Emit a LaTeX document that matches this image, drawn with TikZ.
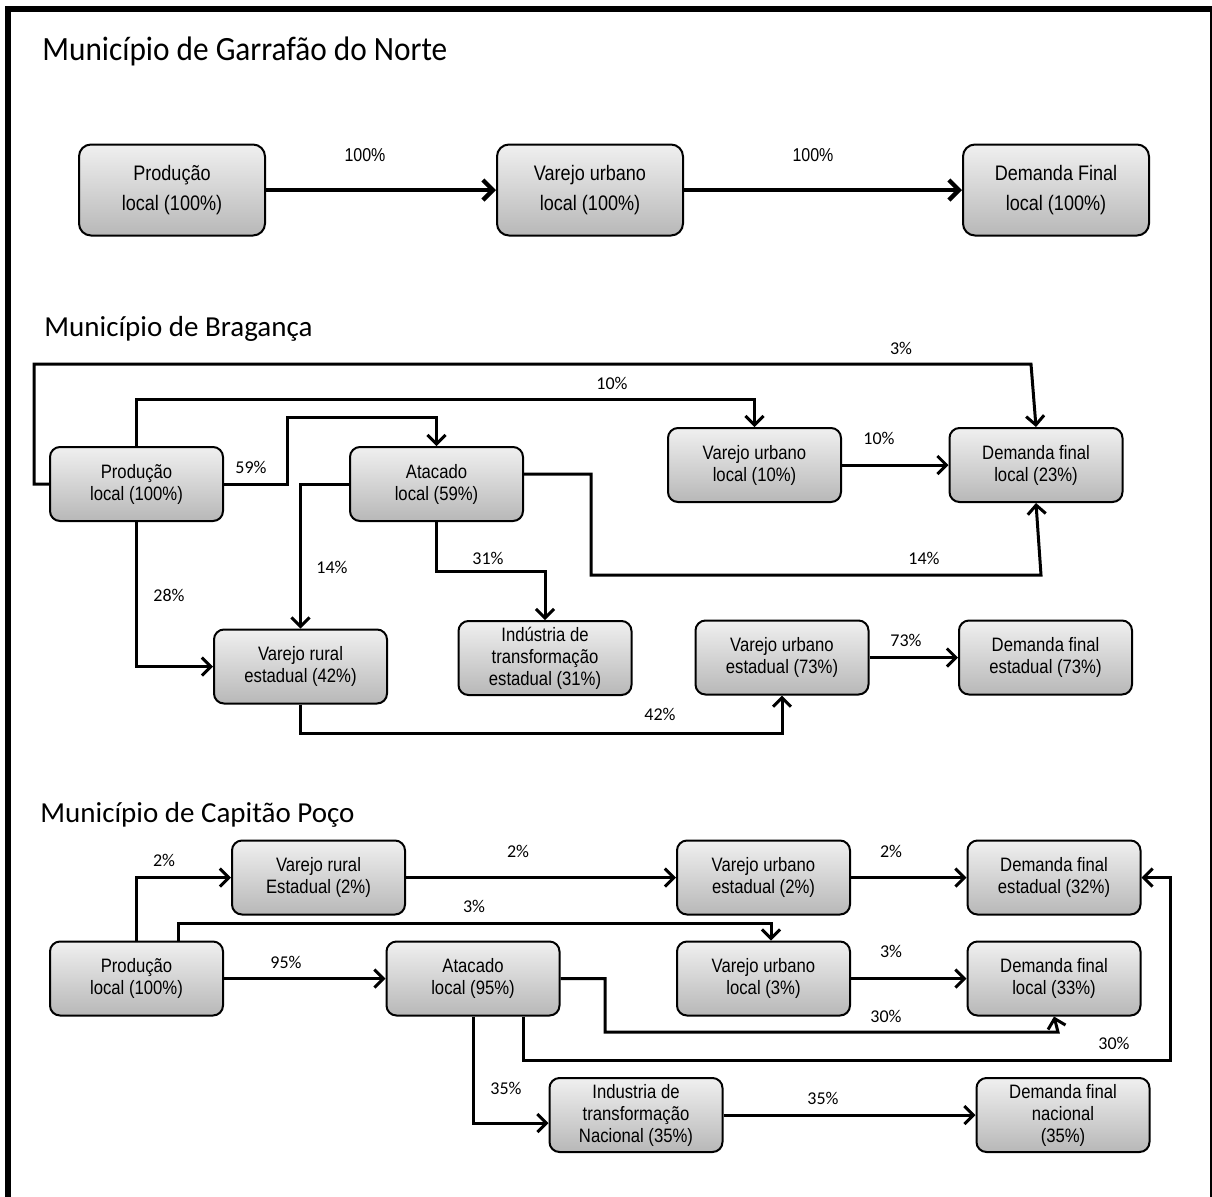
\documentclass[tikz,border=0pt]{standalone}
\usepackage{fontspec}
\setmainfont{Carlito}
\newfontfamily\boxfont[FakeStretch=0.86]{Liberation Sans}
\newfontfamily\headfont[FakeStretch=0.92]{Carlito}
\usetikzlibrary{arrows.meta,calc}

\begin{document}
\begin{tikzpicture}[
        x={(0.5pt,0)}, y={(0,-0.5pt)},
        box/.style={draw, line width=1pt, rounded corners=5pt,
          top color=black!6, bottom color=black!28, minimum width=86.5pt,
          minimum height=37pt, inner sep=1pt, align=center,
          font=\boxfont\fontsize{9.7}{11}\selectfont},
        bigbox/.style={box, rounded corners=6pt, minimum width=93pt,
          minimum height=45.5pt, font=\boxfont\fontsize{10.5}{14.8}\selectfont},
        flow/.style={line width=1.5pt, -{Straight Barb[length=4.5pt,width=9pt]}},
        bigflow/.style={line width=2.2pt, -{Straight Barb[length=5pt,width=10pt]}},
        pct/.style={inner sep=0pt, font=\fontsize{9}{10.8}\selectfont},
        bigpct/.style={inner sep=0pt, font=\boxfont\fontsize{9.3}{11}\selectfont},
        title/.style={anchor=base west, inner sep=0pt, font=\fontsize{14.5}{17}\selectfont},
      ]
        \clip (0,0) rectangle (1212,1196);
        \draw[line width=3pt] (8,9) rectangle (1213,1200);

        % Garrafao do Norte
        \node[title, font=\headfont\fontsize{17}{20}\selectfont] (tGar) at (42,60) {Município de Garrafão do Norte};
        \node[bigbox] (gProd) at (172,190) {Produção\\local (100\%)};
        \node[bigbox] (gVar) at (590,190) {Varejo urbano\\local (100\%)};
        \node[bigbox] (gDem) at (1056,190) {Demanda Final\\local (100\%)};
        \draw[bigflow] (gProd) -- (gVar);
        \draw[bigflow] (gVar) -- (gDem);
        \node[bigpct] (gL1) at (365,155) {100\%};
        \node[bigpct] (gL2) at (813,155) {100\%};

        % Braganca
        \node[title] (tBra) at (44,336) {Município de Bragança};
        \node[box] (bProd) at (136.5,484) {Produção\\local (100\%)};
        \node[box] (bAta) at (436.5,484) {Atacado\\local (59\%)};
        \node[box] (bVarUL) at (754.5,465) {Varejo urbano\\local (10\%)};
        \node[box] (bDemL) at (1036,465) {Demanda final\\local (23\%)};
        \node[box] (bVarR) at (300.5,666.5) {Varejo rural\\estadual (42\%)};
        \node[box] (bInd) at (545,658) {Indústria de\\transformação\\estadual (31\%)};
        \node[box] (bVarUE) at (782,657.5) {Varejo urbano\\estadual (73\%)};
        \node[box] (bDemE) at (1045.5,657.5) {Demanda final\\estadual (73\%)};

        \draw[flow] (bProd.west) -| (34,364) -- (1031,364) -- (bDemL.north);
        \draw[flow] (bProd.north) -- (136.5,399) -| (bVarUL.north);
        \draw[flow] (bProd.east) -| (287,417) -| (bAta.north);
        \draw[flow] (bProd.south) |- (bVarR.west);
        \draw[flow] (bAta.west) -| (bVarR.north);
        \draw[flow] (bAta.south) -- (436.5,571) -| (bInd.north);
        \draw[flow] ([yshift=5pt]bAta.east) -| (591,575) -- (1041,575) -- (bDemL.south);
        \draw[flow] (bVarUL) -- (bDemL);
        \draw[flow] (bVarR.south) -- (300.5,733) -| (bVarUE.south);
        \draw[flow] (bVarUE) -- (bDemE);

        \node[pct] (bL1) at (901,348) {3\%};
        \node[pct] (bL2) at (612,383) {10\%};
        \node[pct] (bL3) at (251,467) {59\%};
        \node[pct] (bL4) at (169,595) {28\%};
        \node[pct] (bL5) at (332,567) {14\%};
        \node[pct] (bL6) at (488,558) {31\%};
        \node[pct] (bL7) at (924,558) {14\%};
        \node[pct] (bL8) at (879,438) {10\%};
        \node[pct] (bL9) at (660,714) {42\%};
        \node[pct] (bL10) at (906,640) {73\%};

        % Capitao Poco
        \node[title] (tCap) at (40,822) {Município de Capitão Poço};
        \node[box] (cProd) at (136.5,978.5) {Produção\\local (100\%)};
        \node[box] (cVarR) at (318.5,877.5) {Varejo rural\\Estadual (2\%)};
        \node[box] (cAta) at (473,978.5) {Atacado\\local (95\%)};
        \node[box] (cVarUE) at (763.5,877.5) {Varejo urbano\\estadual (2\%)};
        \node[box] (cVarUL) at (763.5,978.5) {Varejo urbano\\local (3\%)};
        \node[box] (cDemE) at (1054,877.5) {Demanda final\\estadual (32\%)};
        \node[box] (cDemL) at (1054,978.5) {Demanda final\\local (33\%)};
        \node[box] (cInd) at (636,1115) {Industria de\\transformação\\Nacional (35\%)};
        \node[box] (cDemN) at (1063,1115) {Demanda final\\nacional\\(35\%)};

        \draw[flow] (cProd.north) |- (cVarR.west);
        \draw[flow] (cVarR) -- (cVarUE);
        \draw[flow] (cVarUE) -- (cDemE);
        \draw[flow] ([xshift=20.75pt]cProd.north) |- (771,923) -- ([xshift=3.75pt]cVarUL.north);
        \draw[flow] (cProd) -- (cAta);
        \draw[flow] (cVarUL) -- (cDemL);
        \draw[flow] (cAta.east) -| (605,1032) -- (1058,1032) -- (cDemL.south);
        \draw[flow] ([xshift=25pt]cAta.south) |- (1170,1060) |- (cDemE.east);
        \draw[flow] (cAta.south) |- ([yshift=-4pt]cInd.west);
        \draw[flow] (cInd) -- (cDemN);

        \node[pct] (cL1) at (164,860) {2\%};
        \node[pct] (cL2) at (518,851) {2\%};
        \node[pct] (cL3) at (891,851) {2\%};
        \node[pct] (cL4) at (474,906) {3\%};
        \node[pct] (cL5) at (286,962) {95\%};
        \node[pct] (cL6) at (891,951) {3\%};
        \node[pct] (cL7) at (886,1016) {30\%};
        \node[pct] (cL8) at (1114,1043) {30\%};
        \node[pct] (cL9) at (506,1088) {35\%};
        \node[pct] (cL10) at (823,1098) {35\%};
      \end{tikzpicture}
\end{document}
